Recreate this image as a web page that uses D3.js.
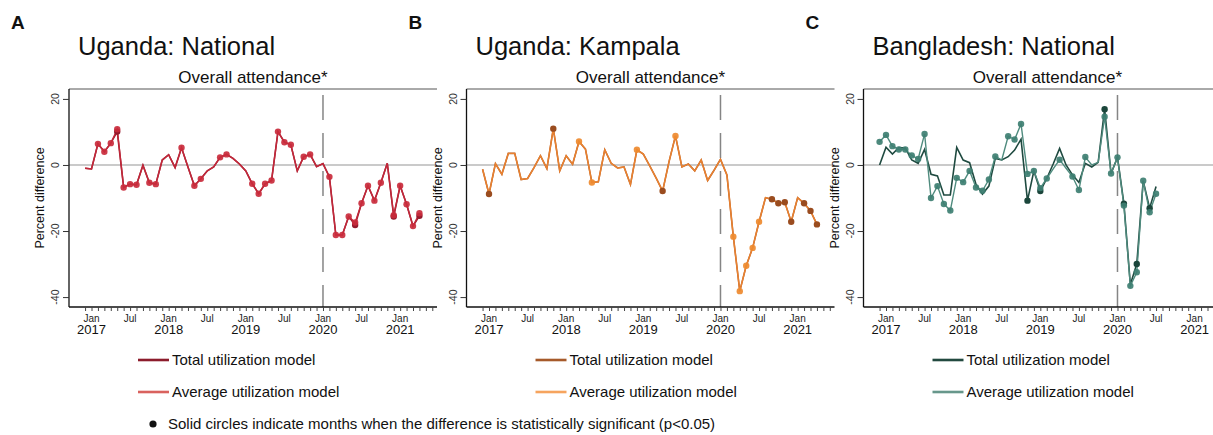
<!DOCTYPE html>
<html>
<head>
<meta charset="utf-8">
<script src="https://cdn.jsdelivr.net/npm/d3@7"></script>
<style>
  body { margin: 0; background: #fff; }
  text { font-family: "Liberation Sans", Arial, Helvetica, sans-serif; fill: #111; }
</style>
</head>
<body>
<svg id="chart" width="1213" height="435"></svg>
<script>
// months are indexed from Jan 2017 = 0 ; first observation is Dec 2016 (-1)
var firstMonth = -1;

var janTicks = [0, 12, 24, 36, 48];
var janYears = ["2017", "2018", "2019", "2020", "2021"];
var julTicks = [6, 18, 30, 42];
var yTicks = [20, 0, -20, -40];
var breakMonth = 36; // Jan 2020

var panelLetters = ["A", "B", "C"];
var panelTitles = ["Uganda: National", "Uganda: Kampala", "Bangladesh: National"];
var subTitle = "Overall attendance*";
var yTitle = "Percent difference";
var legendLabels = ["Total utilization model", "Average utilization model"];
var noteText = "Solid circles indicate months when the difference is statistically significant (p<0.05)";

// Uganda national
var ugNatTotal = [-1.0, -1.2, 6.4, 4.0, 6.6, 10.1, -6.8, -5.8, -6.0, -0.1, -5.4, -5.8, 1.5, 3.1, -0.8, 5.2,
  -0.6, -6.3, -4.2, -1.8, -0.6, 2.3, 3.2, 2.0, 0.3, -1.8, -5.7, -8.7, -5.7, -4.7, 10.1, 6.9, 6.1, -1.8, 2.5,
  3.2, -0.5, 0.4, -3.6, -21.2, -21.2, -15.6, -18.2, -11.6, -6.3, -10.8, -5.4, 0.5, -15.6, -6.3, -11.9, -18.5, -15.4];
var ugNatAverage = [-1.0, -1.2, 6.4, 4.0, 6.6, 10.8, -6.8, -5.8, -6.0, -0.1, -5.4, -5.8, 1.5, 3.1, -0.8, 5.2,
  -0.6, -6.3, -4.2, -1.8, -0.6, 2.3, 3.2, 2.0, 0.3, -1.8, -5.7, -8.7, -5.7, -4.7, 10.1, 6.9, 6.1, -1.8, 2.5,
  3.2, -0.5, 0.4, -3.6, -21.2, -21.2, -15.6, -17.4, -11.6, -6.3, -10.8, -5.4, 0.5, -15.2, -6.3, -11.9, -18.5, -14.6];
var ugNatSigTotal = [4, 41, 47, 51];
var ugNatSigAverage = [1, 2, 3, 4, 5, 6, 7, 9, 10, 14, 16, 17, 20, 21, 25, 26, 27, 28, 29, 30, 31, 33, 34,
  37, 38, 39, 40, 41, 42, 43, 44, 45, 47, 48, 49, 50, 51];

// Uganda Kampala
var ugKlaTotal = [-1.3, -8.8, 0.4, -2.8, 3.5, 3.5, -4.4, -4.1, -0.8, 2.8, -1.1, 11.0, -1.8, 2.8, 0.2, 7.1,
  4.8, -5.3, -5.1, 4.6, 0.5, -0.9, -0.6, -5.9, 4.6, 3.3, -0.3, -4.0, -7.9, 1.0, 8.8, -0.6, 0.3, -1.8, 1.5,
  -4.7, -1.6, 1.7, -3.0, -21.7, -38.2, -30.5, -25.1, -17.2, -9.9, -10.4, -11.6, -11.3, -17.2, -9.9, -11.6, -13.9, -18.0];
var ugKlaAverage = ugKlaTotal.slice();
var ugKlaSigTotal = [0, 10, 27, 44, 45, 46, 47, 49, 50, 51];
var ugKlaSigAverage = [14, 16, 23, 29, 38, 39, 40, 41, 42];

// Bangladesh national
var bdTotal = [0.0, 5.4, 3.3, 5.3, 5.1, 1.5, 0.5, 4.7, -2.8, -3.3, -9.1, -9.1, 5.3, 1.5, 0.7, -5.9, -8.8,
  -6.4, 2.0, 1.5, 2.5, 4.5, 7.8, -10.8, -1.8, -7.9, -4.1, 0.3, 5.0, 0.0, -3.0, -5.3, 0.5, -0.6, 0.8, 16.9,
  -2.6, 2.3, -11.7, -36.2, -30.0, -4.8, -13.1, -6.5];
var bdAverage = [7.0, 9.1, 5.7, 4.7, 4.7, 2.9, 1.8, 9.4, -10.0, -6.4, -11.8, -13.8, -3.9, -5.2, -1.8, -6.8,
  -7.8, -4.4, 2.6, 1.5, 8.7, 7.7, 12.4, -2.7, -1.8, -7.0, -4.1, -1.2, 1.6, -1.0, -3.5, -7.6, 2.4, 0.0, 0.8,
  14.6, -2.6, 2.3, -12.3, -36.6, -32.5, -4.8, -14.3, -8.7];
var bdSigTotal = [22, 24, 34, 37, 39, 41];
var bdSigAverage = [-1, 0, 1, 2, 3, 4, 5, 6, 7, 8, 9, 10, 11, 12, 13, 14, 15, 16, 17, 19, 20, 21, 22, 23,
  24, 25, 27, 29, 30, 31, 34, 35, 36, 37, 38, 39, 40, 41, 42];

var panels = [
  { total: ugNatTotal, average: ugNatAverage, sigTotal: ugNatSigTotal, sigAverage: ugNatSigAverage,
    colTotal: "#9a1c2f", colAverage: "#c3283a", dotTotal: "#931a2d", dotAverage: "#c92b3c",
    legTotal: "#8c1c2c", legAverage: "#d9625e" },
  { total: ugKlaTotal, average: ugKlaAverage, sigTotal: ugKlaSigTotal, sigAverage: ugKlaSigAverage,
    colTotal: "#b4602a", colAverage: "#ea8230", dotTotal: "#9a4c1f", dotAverage: "#ee8a2f",
    legTotal: "#a65a2a", legAverage: "#f6a45e" },
  { total: bdTotal, average: bdAverage, sigTotal: bdSigTotal, sigAverage: bdSigAverage,
    colTotal: "#1f4a40", colAverage: "#4f8b7e", dotTotal: "#1b463b", dotAverage: "#3e7f72",
    legTotal: "#22493f", legAverage: "#67978b" }
];

var svg = d3.select("#chart");

var panelLeft = [69, 466.5, 863.5];
var plotW = 368, plotTop = 89, plotBottom = 307;
var monthW = 6.43;

function drawPanel(p, i) {
  var left = panelLeft[i];
  var x = d3.scaleLinear().domain([-3.5, -3.5 + plotW / monthW]).range([left, left + plotW]);
  var y = d3.scaleLinear().domain([-43, 23]).range([plotBottom, plotTop]);
  var g = svg.append("g");

  // headings
  g.append("text").attr("x", left - 58).attr("y", 29).text(panelLetters[i])
    .style("font-size", "19px").style("font-weight", "bold");
  g.append("text").attr("x", left + 9).attr("y", 55).text(panelTitles[i])
    .style("font-size", "25.5px");
  g.append("text").attr("x", left + plotW / 2).attr("y", 83).text(subTitle)
    .attr("text-anchor", "middle").style("font-size", "17px");

  // frame + reference lines
  g.append("line").attr("x1", left).attr("x2", left + plotW).attr("y1", plotTop).attr("y2", plotTop)
    .attr("stroke", "#555").attr("stroke-width", 1);
  g.append("line").attr("x1", left).attr("x2", left + plotW).attr("y1", y(0)).attr("y2", y(0))
    .attr("stroke", "#b8b8b8").attr("stroke-width", 1.5);
  g.append("line").attr("x1", x(breakMonth)).attr("x2", x(breakMonth)).attr("y1", 95).attr("y2", plotBottom)
    .attr("stroke", "#858585").attr("stroke-width", 1.5).attr("stroke-dasharray", "25,13");

  // y axis
  var yAxis = g.append("g").attr("transform", "translate(" + left + ",0)")
    .call(d3.axisLeft(y).tickValues(yTicks).tickSize(6).tickFormat(""));
  yAxis.select(".domain").attr("stroke", "#111").attr("stroke-width", 1.3)
    .attr("d", "M0," + plotTop + "V" + plotBottom);
  yAxis.selectAll(".tick line").attr("stroke", "#333");
  yTicks.forEach(function(v) {
    g.append("text").attr("transform", "translate(" + (left - 10) + "," + y(v) + ") rotate(-90)")
      .attr("text-anchor", "middle").text(v).style("font-size", "10.5px").style("fill", "#333");
  });
  g.append("text").attr("transform", "translate(" + (left - 25) + "," + ((plotTop + plotBottom) / 2) + ") rotate(-90)")
    .attr("text-anchor", "middle").text(yTitle).style("font-size", "12.5px");

  // x axis: monthly minor ticks, Jan/Jul labelled
  var xAxis = g.append("g").attr("transform", "translate(0," + plotBottom + ")")
    .call(d3.axisBottom(x).tickValues(d3.range(firstMonth, 54)).tickSize(4).tickFormat(""));
  xAxis.select(".domain").attr("stroke", "#111").attr("stroke-width", 1.3)
    .attr("d", "M" + left + ",0H" + (left + plotW));
  xAxis.selectAll(".tick line").attr("stroke", "#444");
  janTicks.forEach(function(m, k) {
    g.append("text").attr("x", x(m)).attr("y", 322).attr("text-anchor", "middle").text("Jan")
      .style("font-size", "10px").style("fill", "#222");
    g.append("text").attr("x", x(m)).attr("y", 334).attr("text-anchor", "middle").text(janYears[k])
      .style("font-size", "13px");
  });
  julTicks.forEach(function(m) {
    g.append("text").attr("x", x(m)).attr("y", 322).attr("text-anchor", "middle").text("Jul")
      .style("font-size", "10px").style("fill", "#222");
  });

  // series
  var line = d3.line().x(function(d) { return x(d.m); }).y(function(d) { return y(d.v); });
  function rows(values) {
    return values.map(function(v, k) { return { m: firstMonth + k, v: v }; });
  }
  var tot = rows(p.total), avg = rows(p.average);
  g.append("path").datum(tot).attr("d", line).attr("fill", "none")
    .attr("stroke", p.colTotal).attr("stroke-width", 1.6);
  g.append("path").datum(avg).attr("d", line).attr("fill", "none")
    .attr("stroke", p.colAverage).attr("stroke-width", 1.4);

  g.selectAll(".dt").data(tot.filter(function(d) { return p.sigTotal.indexOf(d.m) >= 0; }))
    .enter().append("circle").attr("cx", function(d) { return x(d.m); }).attr("cy", function(d) { return y(d.v); })
    .attr("r", 3.2).attr("fill", p.dotTotal);
  g.selectAll(".da").data(avg.filter(function(d) { return p.sigAverage.indexOf(d.m) >= 0; }))
    .enter().append("circle").attr("cx", function(d) { return x(d.m); }).attr("cy", function(d) { return y(d.v); })
    .attr("r", 3.2).attr("fill", p.dotAverage).attr("fill-opacity", 0.92);

  // legend
  var lx = left + 69;
  [p.legTotal, p.legAverage].forEach(function(c, k) {
    var ly = 360 + k * 32;
    g.append("line").attr("x1", lx).attr("x2", lx + 31).attr("y1", ly).attr("y2", ly)
      .attr("stroke", c).attr("stroke-width", 2.6);
    g.append("text").attr("x", lx + 34).attr("y", ly + 5).text(legendLabels[k]).style("font-size", "15px");
  });
}

panels.forEach(drawPanel);

svg.append("circle").attr("cx", 153).attr("cy", 424).attr("r", 3.6).attr("fill", "#111");
svg.append("text").attr("x", 168).attr("y", 429).text(noteText).style("font-size", "15px");
</script>
</body>
</html>
